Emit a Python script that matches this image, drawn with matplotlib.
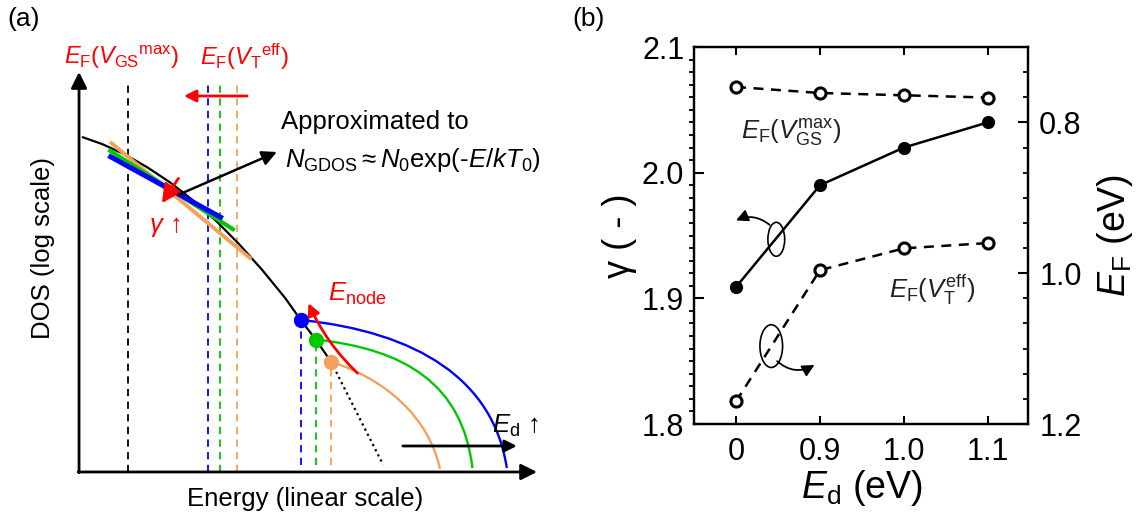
import matplotlib
matplotlib.use("Agg")
import matplotlib.pyplot as plt
from matplotlib.patches import Ellipse, PathPatch
from matplotlib.path import Path
from matplotlib.ticker import MultipleLocator

plt.rcParams['font.family'] = ['Liberation Sans', 'DejaVu Sans']
plt.rcParams['mathtext.fontset'] = 'custom'
plt.rcParams['mathtext.rm'] = 'Liberation Sans'
plt.rcParams['mathtext.it'] = 'Liberation Sans:italic'
plt.rcParams['mathtext.bf'] = 'Liberation Sans:bold'

# ---- panel (a): schematic DOS, energy / log(DOS) in arbitrary units (0..10) ----
colors = ['#0000FF', '#00C800', '#F4A15D']          # blue, green, orange
E_F_max = 1.07                                       # E_F(V_GS^max)
E_F_eff = [2.82, 3.08, 3.44]                         # E_F(V_T^eff) per curve
gdos_E = [0.08, 0.5, 1.0, 1.5, 2.0, 2.5, 3.0, 3.5, 4.0, 4.5, 4.84, 5.17, 5.50]
gdos_D = [8.37, 8.20, 7.94, 7.61, 7.23, 6.78, 6.27, 5.69, 5.05, 4.35, 3.80, 3.31, 2.76]
tail_E = [5.50, 6.64]
tail_D = [2.76, 0.18]
node_E = [4.84, 5.17, 5.50]
node_D = [3.80, 3.31, 2.76]
tan_E = [[0.69, 3.09], [0.68, 3.36], [0.71, 3.73]]
tan_D = [[7.88, 6.37], [8.03, 6.07], [8.22, 5.35]]
arc_ctrl = [
    [(4.84, 3.80), (7.40, 3.50), (9.05, 2.30), (9.34, 0.10)],
    [(5.17, 3.31), (7.12, 3.07), (8.37, 2.20), (8.59, 0.10)],
    [(5.50, 2.76), (6.70, 2.31), (7.63, 1.38), (7.88, 0.08)],
]

# ---- panel (b) data ----
Ed_labels = ['0', '0.9', '1.0', '1.1']
gamma = [1.909, 1.990, 2.020, 2.040]
EF_max = [0.753, 0.761, 0.764, 0.767]
EF_eff = [1.170, 0.996, 0.967, 0.960]

fig = plt.figure(figsize=(11.47, 5.19), dpi=100)

# ================= panel (a) =================
ax_a = fig.add_axes([0.0689, 0.0906, 0.3993, 0.7707])
ax_a.set_xlim(0, 10)
ax_a.set_ylim(0, 10)
ax_a.axis('off')

axis_arrow = dict(arrowstyle='-|>', color='k', lw=2, mutation_scale=24,
                  shrinkA=0, shrinkB=0)
ax_a.annotate('', xy=(10, 0), xytext=(-0.02, 0), arrowprops=axis_arrow,
              annotation_clip=False)
ax_a.annotate('', xy=(0, 10), xytext=(0, -0.02), arrowprops=axis_arrow,
              annotation_clip=False)

dash = (0, (4, 3))
ax_a.plot([E_F_max, E_F_max], [0, 9.75], color='k', ls=dash, lw=1.3)
for e, c in zip(E_F_eff, colors):
    ax_a.plot([e, e], [0, 9.75], color=c, ls=dash, lw=1.3)

ax_a.plot(gdos_E, gdos_D, color='k', lw=1.6, solid_capstyle='round')
ax_a.plot(tail_E, tail_D, color='k', ls=(0, (1, 1.6)), lw=1.6)

for i, lw in zip([2, 1, 0], [2.8, 3.0, 3.6]):
    ax_a.plot(tan_E[i], tan_D[i], color=colors[i], lw=lw, zorder=3)

for ctrl, c in zip(arc_ctrl, colors):
    path = Path(ctrl, [Path.MOVETO, Path.CURVE4, Path.CURVE4, Path.CURVE4])
    ax_a.add_patch(PathPatch(path, fill=False, edgecolor=c, lw=1.7))

for e, d, c in zip(node_E, node_D, colors):
    ax_a.plot([e, e], [0.18, d], color=c, ls=dash, lw=1.3)
    ax_a.plot(e, d, 'o', color=c, ms=10, zorder=5)

# arrows
ax_a.annotate('', xy=(2.29, 9.4), xytext=(3.67, 9.4),
              arrowprops=dict(arrowstyle='-|>', color='red', lw=2,
                              mutation_scale=18, shrinkA=0, shrinkB=0))
ax_a.annotate('', xy=(1.81, 6.72), xytext=(2.17, 7.34),
              arrowprops=dict(arrowstyle='-|>', color='red', lw=2,
                              mutation_scale=28, shrinkA=0, shrinkB=0), zorder=6)
ax_a.annotate('', xy=(4.32, 8.0), xytext=(2.17, 6.93),
              arrowprops=dict(arrowstyle='-|>', color='k', lw=1.8,
                              mutation_scale=22, shrinkA=0, shrinkB=0), zorder=6)
ax_a.annotate('', xy=(5.01, 4.22), xytext=(6.08, 2.47),
              arrowprops=dict(arrowstyle='-|>', color='red', lw=2,
                              mutation_scale=18, shrinkA=0, shrinkB=0,
                              connectionstyle='arc3,rad=-0.1'), zorder=6)
ax_a.annotate('', xy=(9.56, 0.65), xytext=(7.07, 0.65),
              arrowprops=dict(arrowstyle='-|>', color='k', lw=2,
                              mutation_scale=18, shrinkA=0, shrinkB=0))

# texts
fs = 18.5
ax_a.text(0.94, 10.375, r'$E_{\rm F}(V_{\rm GS}{}^{\rm max})$', color='red',
          fontsize=17, ha='center', va='center')
ax_a.text(3.6, 10.375, r'$E_{\rm F}(V_{\rm T}{}^{\rm eff})$', color='red',
          fontsize=17, ha='center', va='center')
ax_a.text(4.4, 8.75, 'Approximated to', fontsize=fs, ha='left', va='center')
ax_a.text(4.5, 7.8, r'$N_{\rm GDOS}\approx N_{\rm 0}$exp(-$E/kT_{0}$)',
          fontsize=fs, ha='left', va='center')
ax_a.text(1.88, 6.13, r'$\gamma$ ↑', color='red', fontsize=fs,
          ha='center', va='center')
ax_a.text(5.44, 4.45, r'$E_{\rm node}$', color='red', fontsize=fs,
          ha='left', va='center')
ax_a.text(9.53, 1.15, r'$E_{\rm d}$ ↑', fontsize=fs, ha='center', va='center')
ax_a.text(-0.79, 5.6, 'DOS (log scale)', fontsize=fs, rotation=90,
          ha='center', va='center')
ax_a.text(4.93, -0.675, 'Energy (linear scale)', fontsize=fs,
          ha='center', va='center')

fig.text(0.0209, 0.9634, '(a)', fontsize=19, ha='center', va='center')
fig.text(0.5135, 0.9634, '(b)', fontsize=19, ha='center', va='center')

# ================= panel (b) =================
ax = fig.add_axes([0.6051, 0.1830, 0.2912, 0.7264])
xs = list(range(len(Ed_labels)))
ax.plot(xs, gamma, '-o', color='k', lw=1.8, ms=8.5, zorder=4)
ax.set_xlim(-0.5, 3.48)
ax.set_ylim(1.8, 2.1)
ax.set_xticks(xs)
ax.set_xticklabels(Ed_labels)
ax.set_yticks([1.8, 1.9, 2.0, 2.1])
ax.yaxis.set_minor_locator(MultipleLocator(0.01))
ax.tick_params(axis='both', direction='in', labelsize=22, width=1.5)
ax.tick_params(axis='y', which='major', length=7, pad=7, right=False)
ax.tick_params(axis='y', which='minor', length=3.5, width=1.3, right=False)
ax.tick_params(axis='x', which='major', top=True, length=6, pad=9)
for s in ax.spines.values():
    s.set_linewidth(1.6)

ax2 = ax.twinx()
ax2.set_ylim(1.2, 0.7)
ax2.set_yticks([0.8, 1.0, 1.2])
ax2.yaxis.set_minor_locator(MultipleLocator(1 / 30))
ax2.tick_params(axis='y', direction='in', labelsize=22, width=1.5, length=7, pad=8)
ax2.tick_params(axis='y', which='minor', direction='in', length=3.5, width=1.3)
for s in ax2.spines.values():
    s.set_linewidth(1.6)
open_style = dict(ls=(0, (4, 3)), color='k', lw=1.8, marker='o', mfc='white',
                  mec='k', mew=2.2, ms=8)
ax2.plot(xs, EF_max, **open_style)
ax2.plot(xs, EF_eff, **open_style)

ax.set_xlabel(r'$E_{\rm d}$ (eV)', fontsize=27, va='center')
ax.xaxis.set_label_coords(0.503, -0.17)
ax.set_ylabel('γ ( - )', fontsize=26, va='center')
ax.yaxis.set_label_coords(-0.222, 0.5)
ax2.set_ylabel(r'$E_{\rm F}$ (eV)', fontsize=27, va='center', rotation=90)
ax2.yaxis.set_label_coords(1.26, 0.5)

ax.text(0.29, 0.772, r'$E_{\rm F}(V_{\rm GS}^{\rm max})$', transform=ax.transAxes,
        fontsize=18.5, color='#222222', ha='center', va='center')
ax.text(0.713, 0.355, r'$E_{\rm F}(V_{\rm T}^{\rm eff})$', transform=ax.transAxes,
        fontsize=18.5, color='#222222', ha='center', va='center')

# loop markers with arrows pointing to their axis
ax.add_patch(Ellipse((0.48, 1.947), 0.2, 0.027, fill=False, lw=1.2, color='k'))
ax.annotate('', xy=(0.0, 1.962), xytext=(0.40, 1.9585),
            arrowprops=dict(arrowstyle='-|>', color='k', lw=1.3, mutation_scale=18,
                            shrinkA=0, shrinkB=0, connectionstyle='arc3,rad=0.3'))
ax.add_patch(Ellipse((0.42, 1.862), 0.27, 0.034, fill=False, lw=1.2, color='k'))
ax.annotate('', xy=(0.935, 1.847), xytext=(0.49, 1.850),
            arrowprops=dict(arrowstyle='-|>', color='k', lw=1.3, mutation_scale=18,
                            shrinkA=0, shrinkB=0, connectionstyle='arc3,rad=0.35'))

fig.savefig('out.png', dpi=100)
